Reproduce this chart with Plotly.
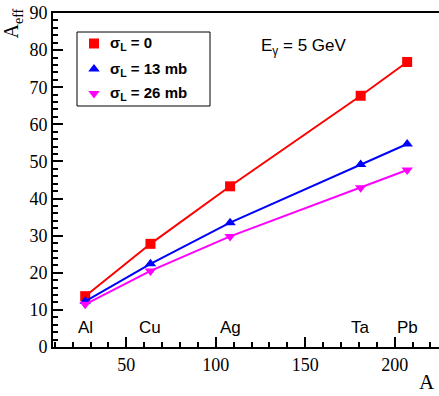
import plotly.graph_objects as go

# Data
elements = ["Al", "Cu", "Ag", "Ta", "Pb"]
mass_A = [27, 63.5, 108, 181, 207]
aeff_sigma0 = [13.7, 27.8, 43.3, 67.7, 76.8]
aeff_sigma13 = [12.3, 22.4, 33.5, 49.2, 54.7]
aeff_sigma26 = [11.5, 20.5, 29.8, 42.9, 47.7]
series_names = ["<b>σ<sub>L</sub> = 0</b>", "<b>σ<sub>L</sub> = 13 mb</b>", "<b>σ<sub>L</sub> = 26 mb</b>"]
colors = ["#ff0000", "#0000ff", "#ff00ff"]
symbols = ["square", "triangle-up", "triangle-down"]

W, H = 439, 396
ML, MR, MT, MB = 53, 0, 13, 49
W_PLOT = W - ML - MR
H_PLOT = H - MT - MB


def px_x(px):
    return (px - ML) / W_PLOT


def px_y(py):
    return (H - MB - py) / H_PLOT


fig = go.Figure()
for vals, name, col, sym in zip([aeff_sigma0, aeff_sigma13, aeff_sigma26], series_names, colors, symbols):
    fig.add_trace(go.Scatter(x=mass_A, y=vals, mode="lines+markers", name=name,
                             line=dict(color=col, width=2),
                             marker=dict(color=col, symbol=sym, size=10),
                             showlegend=False))

# manual legend (box, symbols on an overlay paper-like axis, labels)
leg_rows_py = [43.5, 69, 93.5]
fig.add_shape(type="rect", xref="paper", yref="paper",
              x0=px_x(77), x1=px_x(210), y0=px_y(106), y1=px_y(32),
              line=dict(color="black", width=1), fillcolor="white", layer="below")
fig.add_trace(go.Scatter(x=[px_x(94)] * 3, y=[px_y(p) for p in leg_rows_py],
                         xaxis="x2", yaxis="y2", mode="markers", showlegend=False,
                         hoverinfo="skip",
                         marker=dict(color=colors, symbol=symbols, size=10)))
for name, p in zip(series_names, leg_rows_py):
    fig.add_annotation(x=px_x(108), y=px_y(p), xref="paper", yref="paper", text=name,
                       showarrow=False, xanchor="left", yanchor="middle",
                       font=dict(family="Liberation Sans", size=15, color="black"))

for el, a in zip(elements, mass_A):
    fig.add_annotation(x=a, y=5.3, text=el, showarrow=False, xref="x", yref="y",
                       font=dict(family="Liberation Sans", size=17, color="black"))

fig.add_annotation(x=px_x(304), y=px_y(47), xref="paper", yref="paper",
                   text="E<sub>γ</sub> = 5 GeV", showarrow=False, xanchor="center", yanchor="middle",
                   font=dict(family="Liberation Sans", size=17, color="black"))

axis_font = dict(family="Liberation Serif", size=18, color="black")
fig.update_layout(
    width=W, height=H,
    margin=dict(l=ML, r=MR, t=MT, b=MB),
    paper_bgcolor="white", plot_bgcolor="white",
    showlegend=False,
    xaxis=dict(range=[9, 224.8], showgrid=False, zeroline=False,
               showline=True, linecolor="black", linewidth=2, mirror=True,
               ticks="inside", ticklen=10, tickwidth=1.5, tickcolor="black",
               tickvals=[50, 100, 150, 200], tickfont=axis_font,
               minor=dict(dtick=10, tick0=0, ticks="inside", ticklen=5, tickwidth=1.5, tickcolor="black")),
    yaxis=dict(range=[0, 90], showgrid=False, zeroline=False,
               showline=True, linecolor="black", linewidth=2,
               ticks="inside", ticklen=10, tickwidth=1.5, tickcolor="black",
               dtick=10, tickfont=axis_font, ticklabelstandoff=0,
               minor=dict(dtick=2, ticks="inside", ticklen=5, tickwidth=1.5, tickcolor="black")),
    xaxis2=dict(overlaying="x", range=[0, 1], visible=False, fixedrange=True),
    yaxis2=dict(overlaying="y", range=[0, 1], visible=False, fixedrange=True),
)

fig.add_annotation(x=-0.105, y=0.97, xref="paper", yref="paper", text="A<sub>eff</sub>", textangle=-90,
                   showarrow=False, xanchor="center", yanchor="middle",
                   font=dict(family="Liberation Serif", size=20, color="black"))
fig.add_annotation(x=px_x(437), y=px_y(396), xref="paper", yref="paper", text="A",
                   showarrow=False, xanchor="right", yanchor="bottom",
                   font=dict(family="Liberation Serif", size=21, color="black"))

fig.write_html("out.html")
